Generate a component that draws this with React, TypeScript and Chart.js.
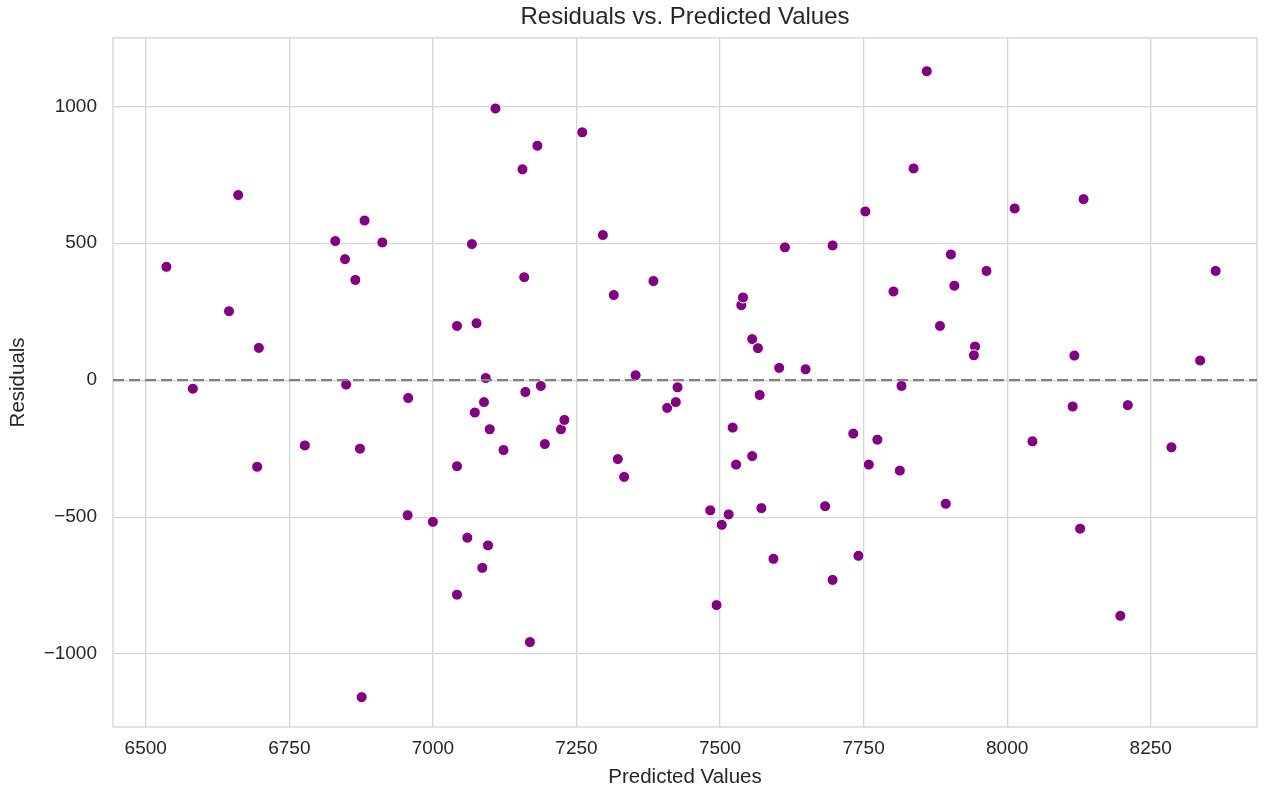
import React, { useEffect, useRef } from 'react';
import { Chart, registerables } from 'chart.js';

Chart.register(...registerables);

const predicted: number[] = [
  6536, 6582, 6645, 6661, 6697, 6694, 6777, 6830, 6847, 6849,
  6865, 6873, 6881, 6912, 6876, 6957, 6956, 7000, 7042, 7042,
  7042, 7060, 7068, 7076, 7073, 7089, 7092, 7086, 7096, 7099,
  7109, 7123, 7156, 7159, 7161, 7169, 7182, 7188, 7195, 7223,
  7229, 7260, 7296, 7315, 7322, 7333, 7353, 7384, 7408, 7423,
  7426, 7483, 7494, 7503, 7515, 7522, 7528, 7537, 7540, 7556,
  7556, 7566, 7569, 7572, 7593, 7603, 7613, 7649, 7683, 7696,
  7696, 7732, 7741, 7753, 7759, 7774, 7802, 7813, 7816, 7837,
  7860, 7883, 7893, 7902, 7908, 7944, 7942, 7964, 8013, 8044,
  8114, 8117, 8127, 8133, 8197, 8210, 8286, 8336, 8363,
];

const residuals: number[] = [
  414, -31, 252, 676, 118, -316, -238, 508, 442, -16,
  366, -250, 583, 503, -1157, -65, -493, -517, 198, -314,
  -783, -575, 497, 208, -118, -80, 8, -685, -603, -179,
  992, -255, 770, 376, -43, -956, 856, -21, -233, -179,
  -145, 905, 530, 311, -288, -353, 18, 362, -101, -80,
  -26, -475, -821, -528, -490, -173, -308, 274, 302, 150,
  -277, 117, -54, -467, -652, 45, 485, 40, -460, 492,
  -729, -195, -641, 616, -308, -217, 324, -330, -21, 773,
  1128, 198, -451, 459, 345, 123, 91, 399, 627, -223,
  -96, 90, -542, 661, -860, -91, -245, 72, 399,
];

const xTicks: number[] = [6500, 6750, 7000, 7250, 7500, 7750, 8000, 8250];
const yTicks: number[] = [-1000, -500, 0, 500, 1000];

const X_MIN = 6443;
const X_MAX = 8435;
const Y_MIN = -1266;
const Y_MAX = 1250;
const ZERO_LINE = 0;

const TEXT = '#262626';
const GRID = '#d5d5d5';
const FONT = "'Liberation Sans', Arial, sans-serif";

const fmt = (v: number) => String(v).replace('-', '\u2212');

const framePlugin = {
  id: 'frameAndZero',
  beforeDatasetsDraw(chart: any) {
    const { ctx, chartArea } = chart;
    ctx.save();
    ctx.strokeStyle = GRID;
    ctx.lineWidth = 1.3;
    ctx.strokeRect(chartArea.left, chartArea.top, chartArea.right - chartArea.left, chartArea.bottom - chartArea.top);
    ctx.restore();
  },
  afterDatasetsDraw(chart: any) {
    const { ctx, chartArea, scales } = chart;
    const y = scales.y.getPixelForValue(ZERO_LINE);
    ctx.save();
    ctx.strokeStyle = '#808080';
    ctx.lineWidth = 2.2;
    ctx.setLineDash([11, 5]);
    ctx.beginPath();
    ctx.moveTo(chartArea.left, y);
    ctx.lineTo(chartArea.right, y);
    ctx.stroke();
    ctx.restore();
  },
};

export default function App() {
  const ref = useRef<HTMLCanvasElement | null>(null);

  useEffect(() => {
    document.body.style.margin = '0';
    const canvas = ref.current;
    if (!canvas) return;
    const points = predicted.map((x, i) => ({ x, y: residuals[i] }));
    const chart = new Chart(canvas, {
      type: 'scatter',
      data: {
        datasets: [
          {
            data: points,
            backgroundColor: '#800080',
            borderColor: '#ffffff',
            borderWidth: 1,
            pointRadius: 5.5,
            pointHoverRadius: 5.5,
          },
        ],
      },
      plugins: [framePlugin],
      options: {
        responsive: false,
        animation: false,
        devicePixelRatio: 1,
        layout: { padding: { left: 0, right: 11, top: 0, bottom: 0 } },
        plugins: {
          legend: { display: false },
          tooltip: { enabled: false },
          title: {
            display: true,
            text: 'Residuals vs. Predicted Values',
            color: TEXT,
            fullSize: false,
            font: { family: FONT, size: 24, weight: 'normal', lineHeight: 1.2 },
            padding: { top: 3, bottom: 6 },
          },
        },
        scales: {
          x: {
            type: 'linear',
            min: X_MIN,
            max: X_MAX,
            afterBuildTicks: (axis: any) => {
              axis.ticks = xTicks.map((v) => ({ value: v }));
            },
            afterFit: (axis: any) => {
              axis.height = 63;
            },
            grid: { color: GRID, lineWidth: 1.3, drawTicks: false },
            border: { display: false },
            ticks: {
              color: TEXT,
              font: { family: FONT, size: 19 },
              padding: 10,
              maxRotation: 0,
              autoSkip: false,
              callback: (v: any) => fmt(Number(v)),
            },
            title: {
              display: true,
              text: 'Predicted Values',
              color: TEXT,
              font: { family: FONT, size: 20.5 },
              padding: { top: 4, bottom: 0 },
            },
          },
          y: {
            type: 'linear',
            min: Y_MIN,
            max: Y_MAX,
            afterBuildTicks: (axis: any) => {
              axis.ticks = yTicks.map((v) => ({ value: v }));
            },
            afterFit: (axis: any) => {
              axis.width = 113;
            },
            grid: { color: GRID, lineWidth: 1.3, drawTicks: false },
            border: { display: false },
            ticks: {
              color: TEXT,
              font: { family: FONT, size: 19 },
              padding: 16,
              autoSkip: false,
              callback: (v: any) => fmt(Number(v)),
            },
            title: {
              display: true,
              text: 'Residuals',
              color: TEXT,
              font: { family: FONT, size: 20.5 },
              padding: { top: 6, bottom: 0 },
            },
          },
        },
      },
    });
    return () => chart.destroy();
  }, []);

  return (
    <canvas
      ref={ref}
      width={1268}
      height={790}
      style={{ display: 'block', width: '1268px', height: '790px' }}
    />
  );
}
